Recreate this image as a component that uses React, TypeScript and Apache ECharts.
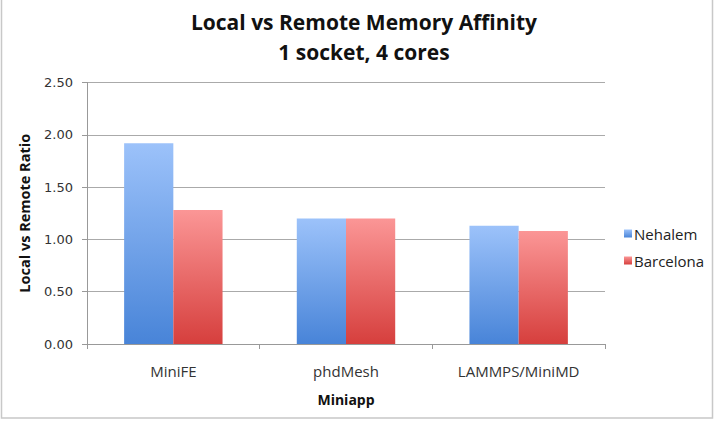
import React, { useEffect, useRef } from "react";
import * as echarts from "echarts";

const categories = ["MiniFE", "phdMesh", "LAMMPS/MiniMD"];
const nehalem = [1.92, 1.2, 1.13];
const barcelona = [1.28, 1.2, 1.08];
const yTicks = [0, 0.5, 1.0, 1.5, 2.0, 2.5];

const grad = (top: string, bottom: string) =>
  new echarts.graphic.LinearGradient(0, 0, 0, 1, [
    { offset: 0, color: top },
    { offset: 1, color: bottom },
  ]);

export default function App() {
  const ref = useRef<HTMLDivElement>(null);
  useEffect(() => {
    if (!ref.current) return;
    const chart = echarts.init(ref.current, undefined, { renderer: "svg" });
    chart.setOption({
      animation: false,
      backgroundColor: "#fff",
      title: {
        text: "Local vs Remote Memory Affinity\n1 socket, 4 cores",
        left: 359,
        textAlign: "center",
        top: 2,
        textStyle: {
          fontFamily: "Open Sans",
          fontWeight: "bold",
          fontSize: 21,
          lineHeight: 30,
          color: "#111",
        },
      },
      legend: {
        orient: "vertical",
        left: 619,
        top: 221,
        itemWidth: 8,
        itemHeight: 8,
        itemGap: 12,
        icon: "rect",
        textStyle: { fontFamily: "Open Sans", fontSize: 15, color: "#222", padding: [0, 0, 0, -3] },
        data: ["Nehalem", "Barcelona"],
      },
      graphic: [
        {
          type: "rect",
          shape: { x: 1.5, y: -2, width: 711, height: 420 },
          style: { fill: "none", stroke: "#c8c8c8", lineWidth: 1.5 },
          silent: true,
        },
      ],
      grid: { left: 87, right: 115, top: 82.5, bottom: 80 },
      xAxis: {
        type: "category",
        data: categories,
        name: "Miniapp",
        nameLocation: "middle",
        nameGap: 48,
        nameTextStyle: { fontFamily: "Open Sans", fontWeight: "bold", fontSize: 14, color: "#111" },
        axisLine: { lineStyle: { color: "#999" } },
        axisTick: { show: true, alignWithLabel: false, length: 5, lineStyle: { color: "#999" } },
        axisLabel: { fontFamily: "Open Sans", fontSize: 15, color: "#333", margin: 19 },
      },
      yAxis: {
        type: "value",
        min: 0,
        max: 2.5,
        interval: 0.5,
        name: "Local vs Remote Ratio",
        nameLocation: "middle",
        nameGap: 55,
        nameTextStyle: { fontFamily: "Open Sans", fontWeight: "bold", fontSize: 14.5, color: "#111" },
        axisLine: { show: true, lineStyle: { color: "#999" } },
        axisTick: { show: true, length: 5, lineStyle: { color: "#999" } },
        splitLine: { lineStyle: { color: "#aaa" } },
        axisLabel: {
          fontFamily: "DejaVu Sans",
          fontSize: 13,
          color: "#333",
          margin: 14,
          formatter: (v: number) => (yTicks.includes(v) ? v.toFixed(2) : ""),
        },
      },
      series: [
        {
          name: "Nehalem",
          type: "bar",
          data: nehalem,
          barGap: "0%",
          barCategoryGap: "43%",
          itemStyle: { color: grad("#9cc2fa", "#4884d8") },
        },
        {
          name: "Barcelona",
          type: "bar",
          data: barcelona,
          itemStyle: { color: grad("#fb9696", "#d63f3d") },
        },
      ],
    });
    return () => chart.dispose();
  }, []);
  return (
    <div
      ref={ref}
      style={{ position: "absolute", left: 0, top: 0, width: 720, height: 424 }}
    />
  );
}
